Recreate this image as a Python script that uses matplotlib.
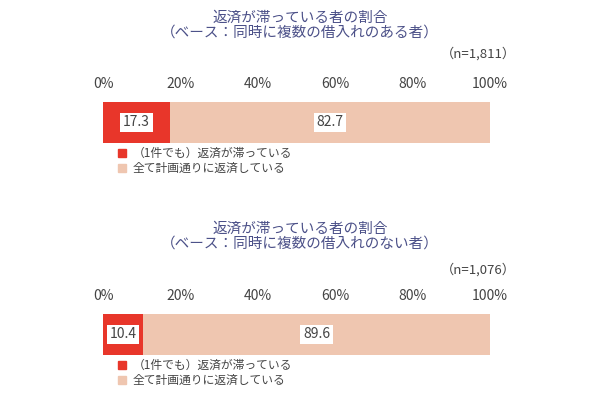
import matplotlib
matplotlib.use("Agg")
import matplotlib.pyplot as plt
from matplotlib.patches import Rectangle

plt.rcParams["font.family"] = "Noto Sans CJK JP"

titles = ["返済が滞っている者の割合\n（ベース：同時に複数の借入れのある者）",
          "返済が滞っている者の割合\n（ベース：同時に複数の借入れのない者）"]
ns = ["（n=1,811）", "（n=1,076）"]
delayed = [17.3, 10.4]
ontime = [82.7, 89.6]
series_names = ["（1件でも）返済が滞っている", "全て計画通りに返済している"]
ticks = [0, 20, 40, 60, 80, 100]
tick_labels = ["0%", "20%", "40%", "60%", "80%", "100%"]

c_red = "#e8362a"
c_peach = "#efc6b0"
navy = "#4b5088"
txt = "#444444"

fig = plt.figure(figsize=(6, 4), dpi=100)
tops = [143, 355]  # bar bottom in px
title_y = [11, 222]
n_y = [54, 270]
for i in range(2):
    ax = fig.add_axes([103/600, 1 - tops[i]/400, 387/600, 41/400])
    ax.barh(0, delayed[i], color=c_red, height=1)
    ax.barh(0, ontime[i], left=delayed[i], color=c_peach, height=1)
    ax.set_xlim(0, 100)
    ax.set_ylim(-0.5, 0.5)
    ax.xaxis.tick_top()
    ax.set_xticks(ticks)
    ax.set_xticklabels(tick_labels, fontsize=10, color=txt)
    ax.tick_params(length=0, pad=8)
    ax.set_yticks([])
    for s in ax.spines.values():
        s.set_visible(False)
    for x, v in [(delayed[i] / 2, delayed[i]), (delayed[i] + ontime[i] / 2, ontime[i])]:
        ax.text(x, 0, f"{v:.1f}", ha="center", va="center", fontsize=10, color=txt,
                bbox=dict(facecolor="white", edgecolor="none", pad=2))
    fig.text(0.5, 1 - title_y[i]/400, titles[i], ha="center", va="top", fontsize=10.5,
             color=navy, linespacing=1.05)
    fig.text(516/600, 1 - n_y[i]/400, ns[i], ha="right", va="center", fontsize=9.5, color=txt)
    ly = [tops[i] + 10, tops[i] + 25]
    for j, c in enumerate([c_red, c_peach]):
        fig.patches.append(Rectangle((118/600, 1 - (ly[j] + 4)/400), 8/600, 8/400,
                                     transform=fig.transFigure, color=c))
        fig.text(133/600, 1 - ly[j]/400, series_names[j], ha="left", va="center",
                 fontsize=8.5, color=txt)

fig.savefig("out.png")
